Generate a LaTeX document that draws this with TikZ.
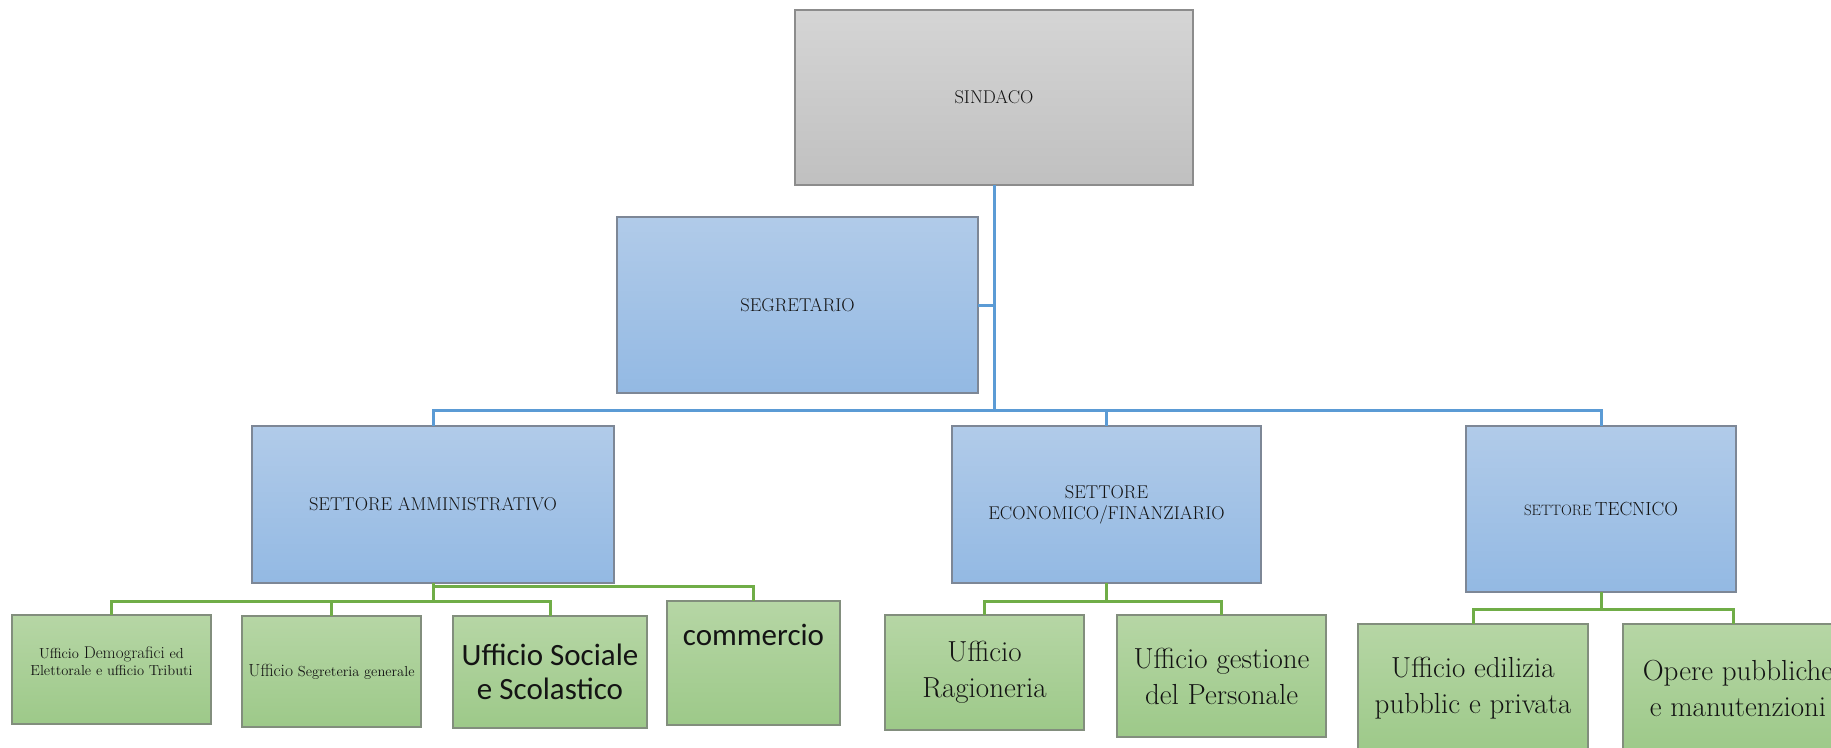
\documentclass[tikz,border=0pt]{standalone}
\usepackage{fontspec}
\newfontfamily\calfont{Carlito}
\definecolor{lineblue}{RGB}{91,155,213}
\definecolor{linegreen}{RGB}{112,173,71}
\definecolor{grayT}{RGB}{213,213,213}
\definecolor{grayB}{RGB}{192,192,192}
\definecolor{grayD}{RGB}{140,140,140}
\definecolor{blueT}{RGB}{177,203,233}
\definecolor{blueB}{RGB}{147,185,227}
\definecolor{blueD}{RGB}{125,135,150}
\definecolor{greenT}{RGB}{182,214,165}
\definecolor{greenB}{RGB}{157,201,137}
\definecolor{greenD}{RGB}{130,142,125}
\definecolor{ink}{RGB}{20,20,20}
\newcommand{\fs}[2]{\fontsize{#1}{#2}\selectfont}
\tikzset{
  orgbox/.style={draw, line width=1.4pt, inner sep=2pt, outer sep=0pt, align=center, text=ink},
  graybox/.style={orgbox, draw=grayD, top color=grayT, bottom color=grayB},
  bluebox/.style={orgbox, draw=blueD, top color=blueT, bottom color=blueB},
  greenbox/.style={orgbox, draw=greenD, top color=greenT, bottom color=greenB},
  bluelink/.style={draw=lineblue, line width=3pt},
  greenlink/.style={draw=linegreen, line width=3pt},
  smalltxt/.style={font=\fs{18.5}{21}},
  bigtxt/.style={font=\fs{29}{36}},
  cal/.style={font=\calfont\fs{31}{34}}
}
\begin{document}
\begin{tikzpicture}[x=1pt,y=-1pt]
\clip (0,0) rectangle (1831,747);
\fill[white] (0,0) rectangle (1831,747);
% top levels
\node[graybox, smalltxt, minimum width=398pt, minimum height=175pt] (sindaco) at (994,97.5) {SINDACO};
\node[bluebox, smalltxt, minimum width=361pt, minimum height=176pt] (segret) at (797.5,305) {SEGRETARIO};
\node[bluebox, smalltxt, minimum width=362pt, minimum height=157pt] (amm) at (433,504.5) {SETTORE AMMINISTRATIVO};
\node[bluebox, smalltxt, minimum width=309pt, minimum height=157pt] (econ) at (1106.5,504.5) {SETTORE\\ECONOMICO/FINANZIARIO};
\node[bluebox, minimum width=270pt, minimum height=166pt] (tecn) at (1601,509) {{\fs{15}{17}SETTORE} {\fs{19}{21}TECNICO}};
% offices
\node[greenbox, minimum width=199pt, minimum height=109pt] (b1) at (111.5,669.5) {};
\node[align=center, text=ink, font=\fs{14.5}{17}] (t1) at (111.5,661) {Ufficio {\fs{17}{17}Demografici} ed\\Elettorale e ufficio Tributi};
\node[greenbox, font=\fs{14.5}{17}, minimum width=179pt, minimum height=111pt] (b2) at (331.5,671.5) {{\fs{17.5}{17}Ufficio} Segreteria generale};
\node[greenbox, cal, minimum width=194pt, minimum height=112pt] (b3) at (550,672) {Ufficio Sociale\\e Scolastico};
\node[greenbox, minimum width=173pt, minimum height=124pt] (b4) at (753.5,663) {};
\node[cal, anchor=base, text=ink] (t4) at (753.5,645) {commercio};
\node[greenbox, bigtxt, minimum width=199pt, minimum height=115pt] (b5) at (984.5,672.5) {Ufficio\\Ragioneria};
\node[greenbox, bigtxt, minimum width=209pt, minimum height=122pt] (b6) at (1221.5,676) {Ufficio gestione\\del Personale};
\node[greenbox, bigtxt, minimum width=230pt, minimum height=128pt] (b7) at (1473,688) {Ufficio edilizia\\pubblic e privata};
\node[greenbox, bigtxt, minimum width=230pt, minimum height=128pt] (b8) at (1738,688) {Opere pubbliche\\e manutenzioni};
% blue connectors
\coordinate (bus) at (994,410);
\draw[bluelink] (sindaco.south) -- (bus);
\draw[bluelink] (segret.east) -- (segret.east -| bus);
\draw[bluelink] (amm.north) |- (bus) -| (tecn.north);
\draw[bluelink] (econ.north) -- (econ.north |- bus);
% green connectors
\coordinate (ga) at (433,601);
\draw[greenlink] (amm.south) -- (ga);
\draw[greenlink] (b1.north) |- (ga) -| (b3.north);
\draw[greenlink] (b2.north) -- (b2.north |- ga);
\draw[greenlink] ([yshift=-3pt]amm.south) -| (b4.north);
\coordinate (ge) at (1106.5,601);
\draw[greenlink] (econ.south) -- (ge);
\draw[greenlink] (b5.north) |- (ge) -| (b6.north);
\coordinate (gt) at (1601,609);
\draw[greenlink] (tecn.south) -- (gt);
\draw[greenlink] (b7.north) |- (gt) -| ([xshift=-5pt]b8.north);
\end{tikzpicture}
\end{document}
